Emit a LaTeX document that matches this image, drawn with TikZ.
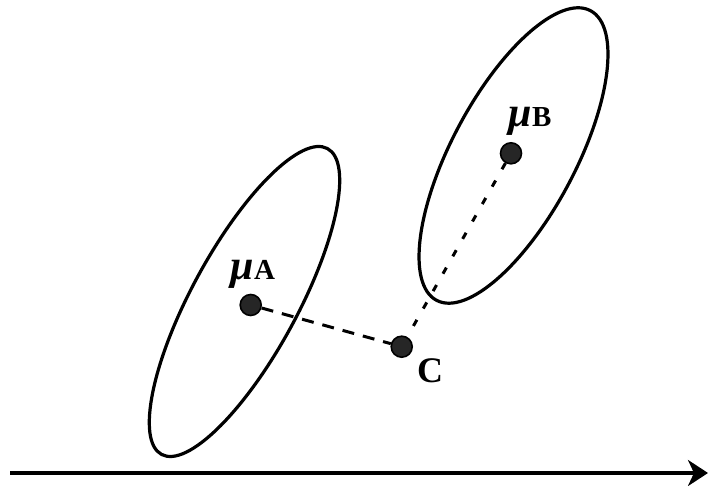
\documentclass[tikz,border=0pt]{standalone}
\usepackage{fontspec}
\setmainfont{Liberation Serif}
\usetikzlibrary{arrows.meta}
\tikzset{
  curve/.style={draw=black, line width=3.2pt},
  dotpt/.style={circle, draw=black, line width=1.6pt, fill=black!85, minimum size=21pt, inner sep=0pt},
  dashAC/.style={line width=3pt, dash pattern=on 12pt off 9pt},
  dashBC/.style={line width=3pt, dash pattern=on 7pt off 13pt},
  lbl/.style={font=\bfseries\fontsize{29}{29}\selectfont, inner sep=0pt, anchor=base},
  lblc/.style={font=\bfseries\fontsize{36}{36}\selectfont, inner sep=0pt, anchor=base},
  axisline/.style={line width=3.3pt, -{Stealth[length=20pt,width=26pt,inset=6pt]}}
}
\newcommand{\mubig}{{\fontsize{42}{42}\selectfont\itshape μ}}
\begin{document}
\begin{tikzpicture}[x=1pt,y=1pt]
\useasboundingbox (0,0) rectangle (708,486);
% ellipses
\draw[curve, rotate around={61.5:(244.5,184.5)}] (244.5,184.5) ellipse [x radius=174, y radius=53];
\draw[curve, rotate around={62:(513.5,330.5)}] (513.5,330.5) ellipse [x radius=164, y radius=62];
% points
\node[dotpt] (ma) at (250.7,181) {};
\node[dotpt] (mb) at (511,332.7) {};
\node[dotpt] (c) at (401.7,139.3) {};
% connectors
\draw[dashAC] (ma) -- (c);
\draw[dashBC] (mb) -- (c);
% labels
\node[lbl] (la) at (253,206) {\mubig A};
\node[lbl] (lb) at (530,359) {\mubig B};
\node[lblc] (lc) at (430,103) {C};
% axis
\coordinate (ax0) at (10,13);
\coordinate (ax1) at (708,13);
\draw[axisline] (ax0) -- (ax1);
\end{tikzpicture}
\end{document}
